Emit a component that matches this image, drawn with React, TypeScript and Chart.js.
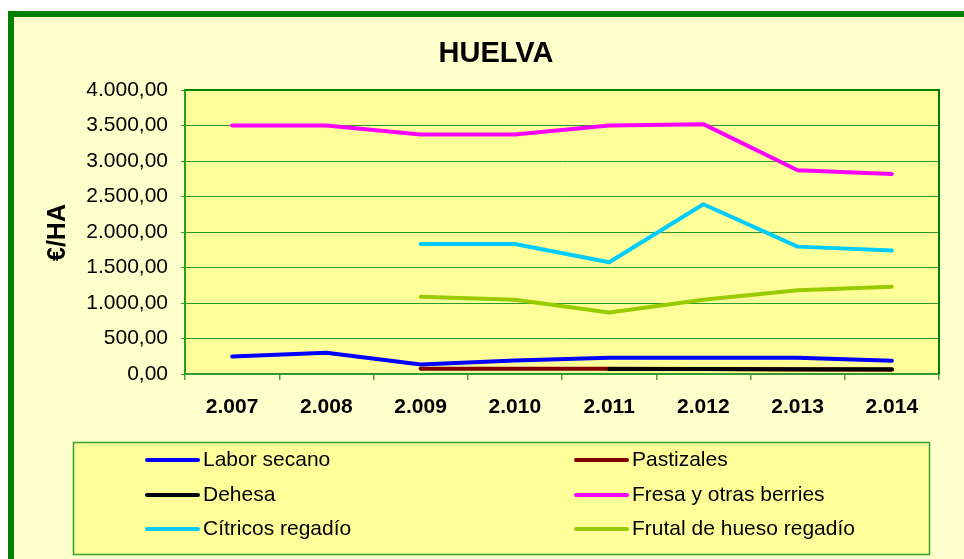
import React, { useEffect, useRef } from "react";
import { Chart, registerables } from "chart.js";

Chart.register(...registerables);

const chartTitle = "HUELVA";
const yAxisTitle = "€/HA";
const years = ["2.007", "2.008", "2.009", "2.010", "2.011", "2.012", "2.013", "2.014"];

const laborSecano = [247, 299, 134, 190, 228, 228, 228, 186];
const pastizales = [null, null, 75, 75, 73, 70, 62, 60];
const dehesa = [null, null, null, null, 70, 70, 66, 66];
const fresa = [3500, 3500, 3374, 3374, 3500, 3519, 2870, 2818];
const citricos = [null, null, 1831, 1831, 1573, 2391, 1794, 1738];
const frutal = [null, null, 1089, 1047, 867, 1047, 1178, 1230];

const seriesNames = [
  "Labor secano",
  "Pastizales",
  "Dehesa",
  "Fresa y otras berries",
  "Cítricos regadío",
  "Frutal de hueso regadío",
];
const seriesColors = ["#0000FF", "#800000", "#000000", "#FF00FF", "#00CCFF", "#99CC00"];
const seriesData = [laborSecano, pastizales, dehesa, fresa, citricos, frutal];
const drawOrder = [2, 1, 0, 3, 4, 5];

const yTicksMin = 0;
const yTicksMax = 4000;
const yTickStep = 500;

const FONT = "'Liberation Sans', Arial, sans-serif";

function formatEs(v: number): string {
  const fixed = Math.abs(v).toFixed(2);
  const [intPart, dec] = fixed.split(".");
  const withDots = intPart.replace(/\B(?=(\d{3})+(?!\d))/g, ".");
  return (v < 0 ? "-" : "") + withDots + "," + dec;
}

const decorPlugin = {
  id: "decor",
  beforeDraw(chart: any) {
    const { ctx, width, height, chartArea } = chart;
    ctx.save();
    ctx.fillStyle = "#FFFFFF";
    ctx.fillRect(0, 0, width, height);
    ctx.fillStyle = "#FFFFCC";
    ctx.fillRect(8, 11, width - 8, height - 11);
    ctx.fillStyle = "#008000";
    ctx.fillRect(8, 11, width - 8, 6);
    ctx.fillRect(8, 11, 6, height - 11);
    ctx.fillStyle = "#FFFF99";
    ctx.fillRect(chartArea.left, chartArea.top, chartArea.right - chartArea.left, chartArea.bottom - chartArea.top);
    ctx.restore();
  },
  afterDraw(chart: any) {
    const { ctx, chartArea } = chart;
    ctx.save();
    // plot frame top/right
    ctx.strokeStyle = "#008000";
    ctx.lineWidth = 2;
    ctx.beginPath();
    ctx.moveTo(chartArea.left, chartArea.top);
    ctx.lineTo(chartArea.right, chartArea.top);
    ctx.lineTo(chartArea.right, chartArea.bottom);
    ctx.stroke();

    // title
    ctx.fillStyle = "#000000";
    ctx.font = `bold 29px ${FONT}`;
    ctx.textAlign = "center";
    ctx.textBaseline = "alphabetic";
    ctx.fillText(chartTitle, 496, 62);

    // y axis title
    ctx.save();
    ctx.translate(65, 232.5);
    ctx.rotate(-Math.PI / 2);
    ctx.font = `bold 25px ${FONT}`;
    ctx.textAlign = "center";
    ctx.textBaseline = "alphabetic";
    ctx.fillText(yAxisTitle, 0, 0);
    ctx.restore();

    // legend
    const lx = 73, ly = 442, lw = 856, lh = 112;
    ctx.fillStyle = "#FFFF99";
    ctx.fillRect(lx, ly, lw, lh);
    ctx.strokeStyle = "#33A033";
    ctx.lineWidth = 1.5;
    ctx.strokeRect(lx + 0.5, ly + 0.5, lw, lh);
    const colLine = [147, 576];
    const rowY = [460, 495, 529];
    ctx.font = `21px ${FONT}`;
    ctx.textAlign = "left";
    ctx.textBaseline = "alphabetic";
    seriesNames.forEach((name, i) => {
      const col = i % 2;
      const row = Math.floor(i / 2);
      const x = colLine[col];
      const y = rowY[row];
      ctx.strokeStyle = seriesColors[i];
      ctx.lineWidth = 4;
      ctx.lineCap = "round";
      ctx.beginPath();
      ctx.moveTo(x, y);
      ctx.lineTo(x + 51, y);
      ctx.stroke();
      ctx.fillStyle = "#000000";
      ctx.fillText(name, x + 56, y + 6);
    });
    ctx.restore();
  },
};

export default function App() {
  const ref = useRef<HTMLCanvasElement | null>(null);
  useEffect(() => {
    if (!ref.current) return;
    const chart = new Chart(ref.current, {
      type: "line",
      data: {
        labels: years,
        datasets: seriesNames.map((name, i) => ({
          label: name,
          data: seriesData[i] as any,
          borderColor: seriesColors[i],
          backgroundColor: seriesColors[i],
          borderWidth: 4,
          pointRadius: 0,
          pointHoverRadius: 0,
          tension: 0,
          fill: false,
          spanGaps: false,
          order: drawOrder[i],
          borderCapStyle: "round" as const,
          borderJoinStyle: "round" as const,
        })),
      },
      options: {
        responsive: false,
        animation: false,
        layout: { padding: { top: 90, right: 25, left: 0, bottom: 0 } },
        plugins: {
          legend: { display: false },
          title: { display: false },
          tooltip: { enabled: false },
        },
        scales: {
          x: {
            type: "category",
            offset: true,
            afterFit: (s: any) => {
              s.height = 185;
            },
            grid: {
              offset: true,
              drawOnChartArea: false,
              drawTicks: true,
              tickLength: 6,
              color: "#55A030",
              lineWidth: 1.5,
            },
            border: { display: true, color: "#339933", width: 2 },
            ticks: {
              color: "#000000",
              font: { family: FONT, size: 21, weight: "bold" },
              padding: 15,
              maxRotation: 0,
              autoSkip: false,
            },
          },
          y: {
            min: yTicksMin,
            max: yTicksMax,
            afterFit: (s: any) => {
              s.width = 185;
            },
            grid: {
              color: "#2E9A2E",
              lineWidth: 1,
              drawTicks: true,
              tickLength: 4,
            },
            border: { display: true, color: "#22A022", width: 2 },
            ticks: {
              stepSize: yTickStep,
              color: "#000000",
              font: { family: FONT, size: 21 },
              padding: 13,
              callback: (v: any) => formatEs(Number(v)),
            },
          },
        },
      },
      plugins: [decorPlugin],
    });
    return () => chart.destroy();
  }, []);
  return (
    <div style={{ position: "absolute", left: 0, top: 0, width: 964, height: 559 }}>
      <canvas ref={ref} width={964} height={559} style={{ display: "block" }} />
    </div>
  );
}
